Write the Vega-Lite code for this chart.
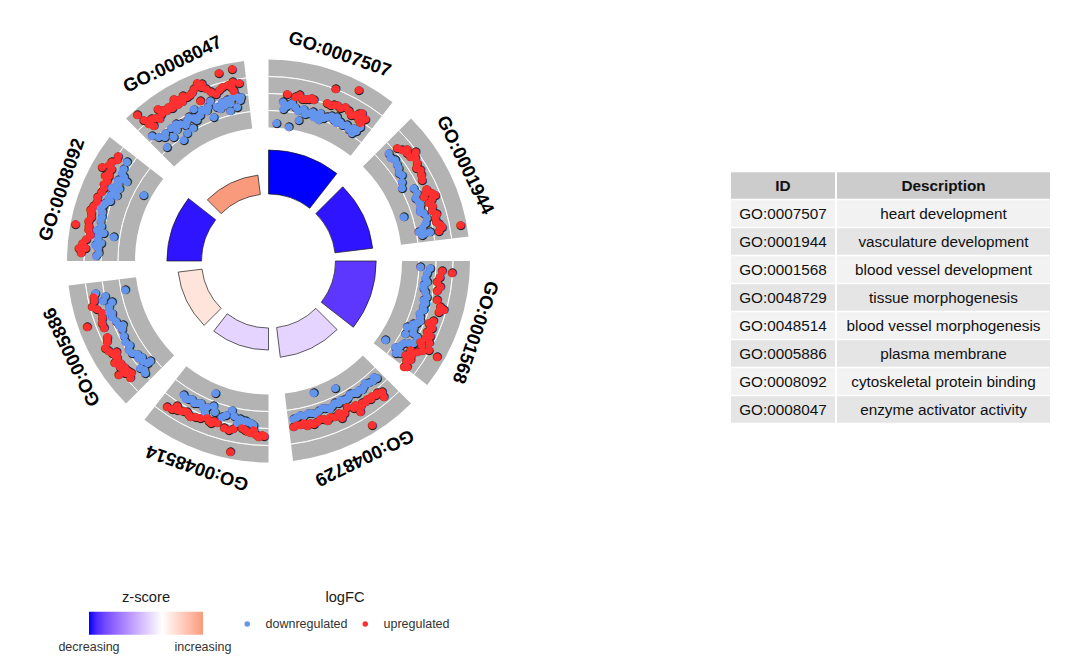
{
  "$schema": "https://vega.github.io/schema/vega-lite/v6.json",
  "padding": 0,
  "background": "white",
  "config": {"view": {"stroke": null}, "font": "Liberation Sans"},
  "datasets": {
    "terms": [
      {"k": 0, "id": "GO:0007507", "z": -5, "nl": 8.8},
      {"k": 1, "id": "GO:0001944", "z": -4.8, "nl": 7.6},
      {"k": 2, "id": "GO:0001568", "z": -4.25, "nl": 8.14},
      {"k": 3, "id": "GO:0048729", "z": -0.9, "nl": 6.0},
      {"k": 4, "id": "GO:0048514", "z": -0.9, "nl": 4.4},
      {"k": 5, "id": "GO:0005886", "z": 0.75, "nl": 4.8},
      {"k": 6, "id": "GO:0008092", "z": -4.8, "nl": 6.92},
      {"k": 7, "id": "GO:0008047", "z": 2.8, "nl": 3.9}
    ],
    "table": [
      {"i": 0, "id": "ID", "desc": "Description"},
      {"i": 1, "id": "GO:0007507", "desc": "heart development"},
      {"i": 2, "id": "GO:0001944", "desc": "vasculature development"},
      {"i": 3, "id": "GO:0001568", "desc": "blood vessel development"},
      {"i": 4, "id": "GO:0048729", "desc": "tissue morphogenesis"},
      {"i": 5, "id": "GO:0048514", "desc": "blood vessel morphogenesis"},
      {"i": 6, "id": "GO:0005886", "desc": "plasma membrane"},
      {"i": 7, "id": "GO:0008092", "desc": "cytoskeletal protein binding"},
      {"i": 8, "id": "GO:0008047", "desc": "enzyme activator activity"}
    ],
    "genes": [
      {"t":5.1,"f":-0.88,"r":"d"},{"t":7.3,"f":-1.2,"r":"d"},{"t":9.8,"f":-1.36,"r":"d"},{"t":5.6,"f":-1.78,"r":"d"},{"t":13,"f":-1.39,"r":"d"},{"t":15.2,"f":-1.71,"r":"d"},{"t":17.3,"f":-1.92,"r":"d"},{"t":19.3,"f":-1.3,"r":"d"},{"t":22,"f":-1.39,"r":"d"},{"t":24.8,"f":-1.44,"r":"d"},{"t":27.2,"f":-1.27,"r":"d"},{"t":29.9,"f":-1.24,"r":"d"},{"t":32.6,"f":-1.17,"r":"d"},{"t":33.1,"f":-1.77,"r":"d"},{"t":34.4,"f":-0.64,"r":"d"},{"t":3.2,"f":-3.49,"r":"d"},{"t":8.5,"f":-3.73,"r":"d"},{"t":12,"f":-2.75,"r":"d"},{"t":19.5,"f":-2.1,"r":"d"},{"t":25.3,"f":-0.92,"r":"d"},
      {"t":6.5,"f":-1.4,"r":"d"},{"t":8.5,"f":-0.9,"r":"d"},{"t":11,"f":-1.7,"r":"d"},{"t":14,"f":-1.9,"r":"d"},{"t":16.5,"f":-1.4,"r":"d"},{"t":18.5,"f":-1.6,"r":"d"},{"t":21,"f":-1.7,"r":"d"},{"t":23.5,"f":-1.1,"r":"d"},{"t":26,"f":-1.6,"r":"d"},{"t":28.5,"f":-1.5,"r":"d"},{"t":31.2,"f":-1.6,"r":"d"},{"t":34,"f":-1.3,"r":"d"},
      {"t":6.3,"f":0.06,"r":"u"},{"t":9.2,"f":-0.12,"r":"u"},{"t":11.7,"f":-0.29,"r":"u"},{"t":13.9,"f":-0.11,"r":"u"},{"t":15.6,"f":-0.04,"r":"u"},{"t":21.2,"f":2.0,"r":"u"},{"t":27.8,"f":3.03,"r":"u"},{"t":22.6,"f":0.18,"r":"u"},{"t":25.1,"f":0.14,"r":"u"},{"t":28.0,"f":0.33,"r":"u"},{"t":30.7,"f":0.27,"r":"u"},{"t":32.3,"f":0.84,"r":"u"},{"t":34.3,"f":0.47,"r":"u"},{"t":32.5,"f":-0.03,"r":"u"},{"t":20.3,"f":0.07,"r":"u"},{"t":12.8,"f":-0.2,"r":"u"},{"t":21.6,"f":0.03,"r":"u"},{"t":33.7,"f":-0.25,"r":"u"},
      {"t":10.5,"f":0.2,"r":"u"},{"t":14.8,"f":0.1,"r":"u"},{"t":23.8,"f":0.3,"r":"u"},{"t":26.5,"f":0.5,"r":"u"},{"t":29.4,"f":0.0,"r":"u"},{"t":31.5,"f":0.6,"r":"u"},{"t":33,"f":0.2,"r":"u"},
      {"t":48.1,"f":-0.74,"r":"d"},{"t":51.4,"f":-0.65,"r":"d"},{"t":54.5,"f":-0.92,"r":"d"},{"t":57.2,"f":-1.04,"r":"d"},{"t":61.4,"f":-1.84,"r":"d"},{"t":71.8,"f":-2.99,"r":"d"},{"t":65.5,"f":-0.53,"r":"d"},{"t":68.4,"f":-0.73,"r":"d"},{"t":70.8,"f":-0.82,"r":"d"},{"t":72.9,"f":-0.63,"r":"d"},{"t":74.9,"f":-0.42,"r":"d"},{"t":78.9,"f":-1.73,"r":"d"},{"t":79.7,"f":-0.98,"r":"d"},{"t":79.7,"f":-0.38,"r":"d"},{"t":63.4,"f":-0.62,"r":"d"},
      {"t":49.8,"f":-0.9,"r":"d"},{"t":53,"f":-0.8,"r":"d"},{"t":56,"f":-1.2,"r":"d"},{"t":59.5,"f":-1.5,"r":"d"},{"t":66.8,"f":-0.9,"r":"d"},{"t":69.5,"f":-0.6,"r":"d"},{"t":72,"f":-1.0,"r":"d"},{"t":76.5,"f":-0.7,"r":"d"},{"t":78,"f":-1.2,"r":"d"},{"t":80.5,"f":-1.4,"r":"d"},
      {"t":48.7,"f":0.38,"r":"u"},{"t":50.2,"f":0.71,"r":"u"},{"t":52.1,"f":0.92,"r":"u"},{"t":53.6,"f":0.99,"r":"u"},{"t":53.3,"f":1.82,"r":"u"},{"t":56.6,"f":1.19,"r":"u"},{"t":59,"f":1.1,"r":"u"},{"t":62.2,"f":0.69,"r":"u"},{"t":66.6,"f":0.37,"r":"u"},{"t":67.5,"f":1.09,"r":"u"},{"t":68.4,"f":1.38,"r":"u"},{"t":70,"f":0.33,"r":"u"},{"t":72.9,"f":0.4,"r":"u"},{"t":75.6,"f":0.53,"r":"u"},{"t":77.7,"f":0.76,"r":"u"},{"t":79,"f":1.07,"r":"u"},{"t":79.4,"f":3.24,"r":"u"},{"t":67.5,"f":0.04,"r":"u"},
      {"t":51,"f":1.2,"r":"u"},{"t":54.8,"f":1.4,"r":"u"},{"t":57.8,"f":0.8,"r":"u"},{"t":60.5,"f":0.9,"r":"u"},{"t":65.5,"f":0.7,"r":"u"},{"t":69.3,"f":0.8,"r":"u"},{"t":71.5,"f":0.6,"r":"u"},{"t":74.3,"f":0.8,"r":"u"},{"t":76.8,"f":0.5,"r":"u"},{"t":78.3,"f":0.9,"r":"u"},{"t":80,"f":0.6,"r":"u"},
      {"t":92.1,"f":-1.85,"r":"d"},{"t":92.6,"f":-0.67,"r":"d"},{"t":96.3,"f":-1.16,"r":"d"},{"t":98.8,"f":-1.25,"r":"d"},{"t":101.1,"f":-0.93,"r":"d"},{"t":102.9,"f":-0.6,"r":"d"},{"t":105.1,"f":-0.61,"r":"d"},{"t":107.5,"f":-0.58,"r":"d"},{"t":110.2,"f":-0.7,"r":"d"},{"t":112.8,"f":-0.78,"r":"d"},{"t":114.9,"f":-0.9,"r":"d"},{"t":115.4,"f":-1.69,"r":"d"},{"t":118.1,"f":-1.48,"r":"d"},{"t":121.4,"f":-1.1,"r":"d"},{"t":124.3,"f":-1.67,"r":"d"},{"t":124.1,"f":-3.13,"r":"d"},{"t":125,"f":-0.79,"r":"d"},{"t":117,"f":-0.11,"r":"d"},{"t":119.6,"f":-0.09,"r":"d"},
      {"t":94.5,"f":-1.0,"r":"d"},{"t":97.5,"f":-0.9,"r":"d"},{"t":100,"f":-1.2,"r":"d"},{"t":104,"f":-0.9,"r":"d"},{"t":106.3,"f":-0.8,"r":"d"},{"t":109,"f":-0.9,"r":"d"},{"t":111.5,"f":-0.5,"r":"d"},{"t":113.5,"f":-1.2,"r":"d"},{"t":116.5,"f":-0.7,"r":"d"},{"t":120.5,"f":-0.6,"r":"d"},{"t":123,"f":-1.3,"r":"d"},{"t":126,"f":-1.2,"r":"d"},
      {"t":93.2,"f":0.72,"r":"u"},{"t":93.6,"f":1.91,"r":"u"},{"t":97,"f":0.25,"r":"u"},{"t":98.5,"f":0.71,"r":"u"},{"t":103,"f":0.62,"r":"u"},{"t":104.9,"f":1.19,"r":"u"},{"t":105.6,"f":1.67,"r":"u"},{"t":111.3,"f":0.49,"r":"u"},{"t":112.4,"f":1.08,"r":"u"},{"t":114.1,"f":0.69,"r":"u"},{"t":116.3,"f":0.85,"r":"u"},{"t":114.9,"f":1.26,"r":"u"},{"t":118,"f":0.5,"r":"u"},{"t":119.1,"f":1.83,"r":"u"},{"t":121.4,"f":0.75,"r":"u"},{"t":124.5,"f":-0.19,"r":"u"},{"t":124.9,"f":0.63,"r":"u"},{"t":127.4,"f":0.77,"r":"u"},{"t":122.1,"f":-0.02,"r":"u"},{"t":119.6,"f":3.07,"r":"u"},
      {"t":95.5,"f":0.5,"r":"u"},{"t":100,"f":0.4,"r":"u"},{"t":106.8,"f":1.2,"r":"u"},{"t":110,"f":0.9,"r":"u"},{"t":113,"f":0.9,"r":"u"},{"t":115.5,"f":1.0,"r":"u"},{"t":117,"f":1.5,"r":"u"},{"t":118.8,"f":0.8,"r":"u"},{"t":120.3,"f":1.2,"r":"u"},{"t":123.3,"f":0.4,"r":"u"},{"t":126,"f":0.3,"r":"u"},{"t":128,"f":0.5,"r":"u"},
      {"t":161.1,"f":-3.34,"r":"d"},{"t":152.4,"f":-2.8,"r":"d"},{"t":137.9,"f":-1.27,"r":"d"},{"t":140.6,"f":-1.18,"r":"d"},{"t":142.9,"f":-1.17,"r":"d"},{"t":145.1,"f":-1.2,"r":"d"},{"t":147.3,"f":-1.2,"r":"d"},{"t":149.5,"f":-1.18,"r":"d"},{"t":151.6,"f":-1.13,"r":"d"},{"t":153.8,"f":-1.05,"r":"d"},{"t":156.4,"f":-1.09,"r":"d"},{"t":159,"f":-1.13,"r":"d"},{"t":161.5,"f":-1.14,"r":"d"},{"t":164.1,"f":-1.07,"r":"d"},{"t":167.3,"f":-1.01,"r":"d"},{"t":169.7,"f":-1.02,"r":"d"},{"t":137.3,"f":-0.92,"r":"d"},
      {"t":139,"f":-1.0,"r":"d"},{"t":141.8,"f":-1.4,"r":"d"},{"t":144,"f":-1.0,"r":"d"},{"t":146.3,"f":-1.0,"r":"d"},{"t":148.5,"f":-1.4,"r":"d"},{"t":150.5,"f":-1.0,"r":"d"},{"t":152.8,"f":-1.3,"r":"d"},{"t":155,"f":-1.3,"r":"d"},{"t":157.5,"f":-0.9,"r":"d"},{"t":160,"f":-1.3,"r":"d"},{"t":162.8,"f":-0.9,"r":"d"},{"t":165.5,"f":-1.2,"r":"d"},{"t":168.5,"f":-1.2,"r":"d"},{"t":171,"f":-0.9,"r":"d"},
      {"t":170.2,"f":-0.13,"r":"u"},{"t":167.8,"f":-0.17,"r":"u"},{"t":165.6,"f":0.01,"r":"u"},{"t":163.3,"f":0.03,"r":"u"},{"t":160.8,"f":0.01,"r":"u"},{"t":158.5,"f":0.07,"r":"u"},{"t":155.3,"f":0.02,"r":"u"},{"t":151.8,"f":-0.18,"r":"u"},{"t":149,"f":0.07,"r":"u"},{"t":146.6,"f":0.25,"r":"u"},{"t":144.6,"f":0.26,"r":"u"},{"t":142.6,"f":0.29,"r":"u"},{"t":140.6,"f":0.35,"r":"u"},{"t":139.1,"f":0.64,"r":"u"},{"t":139.7,"f":1.22,"r":"u"},{"t":147.8,"f":3.1,"r":"u"},{"t":148.7,"f":1.04,"r":"u"},{"t":155,"f":0.72,"r":"u"},
      {"t":141.5,"f":0.5,"r":"u"},{"t":143.6,"f":0.5,"r":"u"},{"t":145.5,"f":0.4,"r":"u"},{"t":147.5,"f":0.5,"r":"u"},{"t":150,"f":0.3,"r":"u"},{"t":153.5,"f":0.3,"r":"u"},{"t":157,"f":0.2,"r":"u"},{"t":159.8,"f":0.3,"r":"u"},{"t":162,"f":-0.1,"r":"u"},{"t":164.5,"f":0.2,"r":"u"},{"t":166.8,"f":0.2,"r":"u"},{"t":169,"f":-0.1,"r":"u"},{"t":171.5,"f":0.0,"r":"u"},
      {"t":212.4,"f":-1.04,"r":"d"},{"t":210.1,"f":-0.94,"r":"d"},{"t":207.6,"f":-0.82,"r":"d"},{"t":205.4,"f":-1.16,"r":"d"},{"t":202.9,"f":-1.02,"r":"d"},{"t":201.9,"f":-2.92,"r":"d"},{"t":200.8,"f":-1.46,"r":"d"},{"t":202.7,"f":-0.37,"r":"d"},{"t":196.7,"f":-0.59,"r":"d"},{"t":193.8,"f":-1.65,"r":"d"},{"t":190.2,"f":-0.82,"r":"d"},{"t":188.3,"f":-0.72,"r":"d"},{"t":186.2,"f":-0.49,"r":"d"},{"t":191,"f":-0.25,"r":"d"},
      {"t":211,"f":-0.8,"r":"d"},{"t":209,"f":-1.1,"r":"d"},{"t":206.5,"f":-1.0,"r":"d"},{"t":204,"f":-0.8,"r":"d"},{"t":199.5,"f":-0.8,"r":"d"},{"t":195.5,"f":-0.9,"r":"d"},{"t":192.5,"f":-1.0,"r":"d"},{"t":189.3,"f":-0.6,"r":"d"},{"t":187.2,"f":-0.6,"r":"d"},{"t":185.3,"f":-0.3,"r":"d"},
      {"t":214.9,"f":1.19,"r":"u"},{"t":213.1,"f":1.13,"r":"u"},{"t":212.3,"f":0.47,"r":"u"},{"t":210.5,"f":0.74,"r":"u"},{"t":208.5,"f":0.46,"r":"u"},{"t":206.7,"f":0.8,"r":"u"},{"t":203.5,"f":0.47,"r":"u"},{"t":201.4,"f":0.18,"r":"u"},{"t":199.6,"f":0.56,"r":"u"},{"t":198.8,"f":0.14,"r":"u"},{"t":193.3,"f":0.73,"r":"u"},{"t":189.1,"f":0.23,"r":"u"},{"t":187,"f":0.53,"r":"u"},{"t":185.1,"f":0.25,"r":"u"},{"t":183.3,"f":1.0,"r":"u"},{"t":182.2,"f":0.78,"r":"u"},{"t":191.4,"f":3.17,"r":"u"},
      {"t":211.5,"f":0.9,"r":"u"},{"t":209.5,"f":0.6,"r":"u"},{"t":207.5,"f":0.7,"r":"u"},{"t":205,"f":0.6,"r":"u"},{"t":200.5,"f":0.4,"r":"u"},{"t":197.8,"f":0.3,"r":"u"},{"t":195,"f":0.6,"r":"u"},{"t":192,"f":0.5,"r":"u"},{"t":188,"f":0.4,"r":"u"},{"t":186,"f":0.6,"r":"u"},{"t":184.2,"f":0.8,"r":"u"},{"t":181.5,"f":0.9,"r":"u"},
      {"t":259.4,"f":1.04,"r":"d"},{"t":257.9,"f":-0.05,"r":"d"},{"t":255.4,"f":-0.66,"r":"d"},{"t":258.6,"f":-2.5,"r":"d"},{"t":252.4,"f":0.04,"r":"d"},{"t":250.4,"f":-0.15,"r":"d"},{"t":246.9,"f":-0.52,"r":"d"},{"t":246.3,"f":-0.99,"r":"d"},{"t":240.6,"f":-0.36,"r":"d"},{"t":235.9,"f":-0.3,"r":"d"},{"t":234.6,"f":-0.8,"r":"d"},{"t":232.7,"f":-0.98,"r":"d"},{"t":229.8,"f":-1.06,"r":"d"},{"t":229.9,"f":-1.51,"r":"d"},{"t":230.1,"f":-0.02,"r":"d"},{"t":227.7,"f":-0.08,"r":"d"},{"t":237.6,"f":-0.19,"r":"d"},
      {"t":256.5,"f":0.3,"r":"d"},{"t":254,"f":-0.2,"r":"d"},{"t":251.5,"f":-0.3,"r":"d"},{"t":248.5,"f":-0.4,"r":"d"},{"t":245,"f":-0.7,"r":"d"},{"t":242.5,"f":-0.5,"r":"d"},{"t":238.8,"f":-0.6,"r":"d"},{"t":233.5,"f":-0.6,"r":"d"},{"t":231.5,"f":-0.8,"r":"d"},{"t":228.8,"f":-0.3,"r":"d"},
      {"t":258.3,"f":1.32,"r":"u"},{"t":255.5,"f":1.76,"r":"u"},{"t":252.6,"f":0.85,"r":"u"},{"t":249.5,"f":1.23,"r":"u"},{"t":250.1,"f":3.02,"r":"u"},{"t":243.5,"f":1.55,"r":"u"},{"t":241.9,"f":2.08,"r":"u"},{"t":239.5,"f":1.69,"r":"u"},{"t":239.2,"f":1.15,"r":"u"},{"t":237.6,"f":1.43,"r":"u"},{"t":236.6,"f":2.03,"r":"u"},{"t":235.4,"f":1.49,"r":"u"},{"t":233.6,"f":1.38,"r":"u"},{"t":232.1,"f":1.31,"r":"u"},{"t":232.8,"f":2.46,"r":"u"},{"t":231.9,"f":1.72,"r":"u"},{"t":230.9,"f":1.15,"r":"u"},
      {"t":257,"f":1.4,"r":"u"},{"t":254.3,"f":1.3,"r":"u"},{"t":251,"f":1.0,"r":"u"},{"t":248,"f":1.2,"r":"u"},{"t":244.8,"f":1.3,"r":"u"},{"t":240.8,"f":1.9,"r":"u"},{"t":238.2,"f":1.5,"r":"u"},{"t":236.2,"f":1.7,"r":"u"},{"t":234.4,"f":1.8,"r":"u"},{"t":233,"f":1.6,"r":"u"},{"t":231.2,"f":1.4,"r":"u"},{"t":229.9,"f":1.6,"r":"u"},
      {"t":305,"f":0.65,"r":"d"},{"t":300.9,"f":0.4,"r":"d"},{"t":299.4,"f":-0.13,"r":"d"},{"t":297.2,"f":0.13,"r":"d"},{"t":299.2,"f":-0.6,"r":"d"},{"t":294.9,"f":0.61,"r":"d"},{"t":294.2,"f":0.16,"r":"d"},{"t":291.4,"f":0.51,"r":"d"},{"t":289.7,"f":0.7,"r":"d"},{"t":287.9,"f":1.1,"r":"d"},{"t":284.9,"f":0.58,"r":"d"},{"t":278.7,"f":0.53,"r":"d"},{"t":279.5,"f":-0.02,"r":"d"},{"t":275.3,"f":0.77,"r":"d"},{"t":272.8,"f":0.32,"r":"d"},{"t":278.9,"f":-1.25,"r":"d"},{"t":297.8,"f":-3.07,"r":"d"},{"t":293.2,"f":-0.29,"r":"d"},{"t":280.2,"f":0.82,"r":"d"},
      {"t":302.5,"f":0.5,"r":"d"},{"t":300.2,"f":0.0,"r":"d"},{"t":298.3,"f":0.4,"r":"d"},{"t":296,"f":0.3,"r":"d"},{"t":295.8,"f":-0.2,"r":"d"},{"t":292.8,"f":0.4,"r":"d"},{"t":290.6,"f":0.2,"r":"d"},{"t":288.6,"f":0.8,"r":"d"},{"t":286.5,"f":0.7,"r":"d"},{"t":283.3,"f":0.6,"r":"d"},{"t":281.8,"f":0.4,"r":"d"},{"t":277,"f":0.5,"r":"d"},{"t":274.3,"f":0.4,"r":"d"},{"t":276,"f":0.1,"r":"d"},{"t":271.8,"f":0.6,"r":"d"},
      {"t":303.7,"f":1.73,"r":"u"},{"t":302.3,"f":2.18,"r":"u"},{"t":299.3,"f":2.79,"r":"u"},{"t":298.7,"f":1.76,"r":"u"},{"t":296.4,"f":1.53,"r":"u"},{"t":293.8,"f":1.5,"r":"u"},{"t":289.1,"f":1.66,"r":"u"},{"t":286,"f":2.11,"r":"u"},{"t":283.8,"f":1.78,"r":"u"},{"t":281,"f":1.87,"r":"u"},{"t":278.3,"f":1.5,"r":"u"},{"t":280.8,"f":3.45,"r":"u"},{"t":273.8,"f":2.7,"r":"u"},{"t":274,"f":1.91,"r":"u"},{"t":297.9,"f":1.6,"r":"u"},
      {"t":304.8,"f":1.9,"r":"u"},{"t":301,"f":2.2,"r":"u"},{"t":300.3,"f":1.7,"r":"u"},{"t":297.5,"f":2.0,"r":"u"},{"t":295,"f":1.7,"r":"u"},{"t":292.5,"f":1.6,"r":"u"},{"t":290.5,"f":1.8,"r":"u"},{"t":287.5,"f":1.9,"r":"u"},{"t":285,"f":1.9,"r":"u"},{"t":282.5,"f":2.0,"r":"u"},{"t":279.8,"f":1.8,"r":"u"},{"t":276.8,"f":1.9,"r":"u"},{"t":275.5,"f":2.3,"r":"u"},{"t":272.5,"f":2.4,"r":"u"},
      {"t":317,"f":0.41,"r":"d"},{"t":318.4,"f":-0.24,"r":"d"},{"t":321,"f":-0.38,"r":"d"},{"t":323.6,"f":-0.33,"r":"d"},{"t":325,"f":-0.89,"r":"d"},{"t":324.9,"f":-2.31,"r":"d"},{"t":318.2,"f":-1.76,"r":"d"},{"t":322.5,"f":-1.36,"r":"d"},{"t":327.2,"f":-0.53,"r":"d"},{"t":329.8,"f":-0.6,"r":"d"},{"t":332.3,"f":-0.75,"r":"d"},{"t":334.9,"f":-0.74,"r":"d"},{"t":337.7,"f":-0.59,"r":"d"},{"t":339.1,"f":-1.61,"r":"d"},{"t":341.4,"f":-0.63,"r":"d"},{"t":343.6,"f":-0.25,"r":"d"},{"t":345.5,"f":-0.14,"r":"d"},{"t":347.3,"f":-0.09,"r":"d"},{"t":349.3,"f":-0.03,"r":"d"},{"t":350.4,"f":-0.18,"r":"d"},{"t":348.4,"f":-1.25,"r":"d"},{"t":345.7,"f":-1.45,"r":"d"},{"t":340,"f":0.36,"r":"d"},{"t":333.7,"f":0.2,"r":"d"},
      {"t":320,"f":-0.7,"r":"d"},{"t":326,"f":-0.2,"r":"d"},{"t":328.5,"f":-1.0,"r":"d"},{"t":331,"f":-0.3,"r":"d"},{"t":333,"f":-1.1,"r":"d"},{"t":336,"f":-0.3,"r":"d"},{"t":338.5,"f":-0.2,"r":"d"},{"t":342.5,"f":-0.9,"r":"d"},{"t":344.5,"f":-0.6,"r":"d"},{"t":346.5,"f":-0.6,"r":"d"},{"t":350,"f":-0.5,"r":"d"},{"t":330.5,"f":-1.7,"r":"d"},{"t":327.5,"f":-1.9,"r":"d"},
      {"t":318,"f":3.42,"r":"u"},{"t":318.4,"f":2.46,"r":"u"},{"t":318.8,"f":1.72,"r":"u"},{"t":319.6,"f":1.16,"r":"u"},{"t":321.5,"f":1.72,"r":"u"},{"t":323.8,"f":1.72,"r":"u"},{"t":325.8,"f":1.69,"r":"u"},{"t":327.7,"f":1.55,"r":"u"},{"t":329.6,"f":1.58,"r":"u"},{"t":331.5,"f":1.63,"r":"u"},{"t":333.5,"f":1.81,"r":"u"},{"t":335.5,"f":2.05,"r":"u"},{"t":338,"f":2.83,"r":"u"},{"t":338.7,"f":2.22,"r":"u"},{"t":340,"f":1.83,"r":"u"},{"t":341.2,"f":1.34,"r":"u"},{"t":342.5,"f":0.89,"r":"u"},{"t":345,"f":1.45,"r":"u"},{"t":346.9,"f":1.55,"r":"u"},{"t":348.6,"f":1.81,"r":"u"},{"t":348.4,"f":0.75,"r":"u"},{"t":345.1,"f":3.14,"r":"u"},{"t":349.2,"f":3.25,"r":"u"},{"t":323.8,"f":2.41,"r":"u"},{"t":329.6,"f":2.35,"r":"u"},{"t":336.9,"f":0.8,"r":"u"},
      {"t":320.5,"f":2.0,"r":"u"},{"t":322.5,"f":1.4,"r":"u"},{"t":324.7,"f":2.0,"r":"u"},{"t":326.8,"f":1.9,"r":"u"},{"t":328.5,"f":1.9,"r":"u"},{"t":330.5,"f":2.0,"r":"u"},{"t":332.5,"f":2.2,"r":"u"},{"t":334.5,"f":1.9,"r":"u"},{"t":336.5,"f":2.4,"r":"u"},{"t":339.3,"f":2.6,"r":"u"},{"t":343.8,"f":1.2,"r":"u"},{"t":347.8,"f":1.2,"r":"u"},{"t":350.5,"f":1.5,"r":"u"}
    ]
  },
  "spacing": 194,
  "hconcat": [
    {
      "width": 537,
      "height": 522,
      "resolve": {"scale": {"theta": "independent", "radius": "independent", "color": "independent"}},
      "layer": [
        {
          "data": {"name": "terms"},
          "mark": {"type": "arc", "fill": "#b3b3b3", "theta2Offset": 0.66323},
          "encoding": {
            "theta": {"field": "k", "type": "quantitative", "scale": {"domain": [0, 8], "range": [0, 6.283185]}},
            "theta2": {"field": "k"},
            "radius": {"datum": 4, "type": "quantitative", "scale": {"type": "linear", "zero": false, "domain": [-4, 4], "range": [133.5, 201.5]}},
            "radius2": {"datum": -4}
          }
        },
        {
          "data": {"name": "terms"},
          "mark": {"type": "arc", "fillOpacity": 0, "stroke": "#ffffff", "strokeWidth": 1, "strokeOpacity": 0.8, "theta2Offset": 0.66323},
          "encoding": {
            "theta": {"field": "k", "type": "quantitative", "scale": {"domain": [0, 8], "range": [0, 6.283185]}},
            "theta2": {"field": "k"},
            "radius": {"datum": -2, "type": "quantitative", "scale": {"type": "linear", "zero": false, "domain": [-4, 4], "range": [133.5, 201.5]}},
            "radius2": {"datum": -2}
          }
        },
        {
          "data": {"name": "terms"},
          "mark": {"type": "arc", "fillOpacity": 0, "stroke": "#ffffff", "strokeWidth": 1, "strokeOpacity": 0.8, "theta2Offset": 0.66323},
          "encoding": {
            "theta": {"field": "k", "type": "quantitative", "scale": {"domain": [0, 8], "range": [0, 6.283185]}},
            "theta2": {"field": "k"},
            "radius": {"datum": 0, "type": "quantitative", "scale": {"type": "linear", "zero": false, "domain": [-4, 4], "range": [133.5, 201.5]}},
            "radius2": {"datum": 0}
          }
        },
        {
          "data": {"name": "terms"},
          "mark": {"type": "arc", "fillOpacity": 0, "stroke": "#ffffff", "strokeWidth": 1, "strokeOpacity": 0.8, "theta2Offset": 0.66323},
          "encoding": {
            "theta": {"field": "k", "type": "quantitative", "scale": {"domain": [0, 8], "range": [0, 6.283185]}},
            "theta2": {"field": "k"},
            "radius": {"datum": 2, "type": "quantitative", "scale": {"type": "linear", "zero": false, "domain": [-4, 4], "range": [133.5, 201.5]}},
            "radius2": {"datum": 2}
          }
        },
        {
          "data": {"name": "genes"},
          "mark": {"type": "text", "text": "●", "font": "DejaVu Sans", "fontSize": 11.6, "fill": "#1a1a1a", "dx": 0.5, "dy": 0.5},
          "encoding": {
            "theta": {"field": "t", "type": "quantitative", "scale": {"domain": [0, 360], "range": [0, 6.283185]}},
            "radius": {"field": "f", "type": "quantitative", "scale": {"type": "linear", "zero": false, "domain": [-4, 4], "range": [133.5, 201.5]}}
          }
        },
        {
          "data": {"name": "genes"},
          "mark": {"type": "text", "text": "●", "font": "DejaVu Sans", "fontSize": 10.4},
          "encoding": {
            "theta": {"field": "t", "type": "quantitative", "scale": {"domain": [0, 360], "range": [0, 6.283185]}},
            "radius": {"field": "f", "type": "quantitative", "scale": {"type": "linear", "zero": false, "domain": [-4, 4], "range": [133.5, 201.5]}},
            "color": {
              "field": "r", "type": "nominal",
              "scale": {"domain": ["d", "u"], "range": ["#6495ed", "#ff3030"]},
              "legend": {
                "title": "logFC", "orient": "none", "legendX": 241, "legendY": 590, "direction": "horizontal",
                "symbolType": "circle", "symbolSize": 30,
                "labelExpr": "datum.label == 'd' ? 'downregulated' : 'upregulated'",
                "labelFontSize": 12.5, "titleFontSize": 14.7, "titleFontWeight": "normal", "titleAnchor": "middle",
                "titlePadding": 13, "labelOffset": 12, "columnPadding": 11, "labelColor": "#333333", "titleColor": "#1a1a1a"
              }
            }
          }
        },
        {
          "data": {"name": "terms"},
          "mark": {"type": "arc", "stroke": "#1a1a1a", "strokeWidth": 0.7, "theta2Offset": 0.66323},
          "encoding": {
            "theta": {"field": "k", "type": "quantitative", "scale": {"domain": [0, 8], "range": [0, 6.283185]}},
            "theta2": {"field": "k"},
            "radius": {"field": "nl", "type": "quantitative", "scale": {"type": "linear", "zero": false, "domain": [0, 10], "range": [67, 117]}},
            "radius2": {"datum": 0},
            "color": {
              "field": "z", "type": "quantitative",
              "scale": {"domain": [-5, 0, 2.8], "range": ["#0000ff", "#ffffff", "#f99a7c"], "interpolate": "lab"},
              "legend": {
                "title": "z-score", "orient": "none", "legendX": 89, "legendY": 590, "direction": "horizontal",
                "gradientLength": 114, "gradientThickness": 23, "gradientStrokeWidth": 0,
                "values": [-5, 2.8],
                "labelExpr": "datum.value < 0 ? 'decreasing' : 'increasing'",
                "labelAlign": "center", "labelFontSize": 12.5, "labelOffset": 6, "labelColor": "#333333",
                "titleFontSize": 14.7, "titleFontWeight": "normal", "titleAnchor": "middle", "titlePadding": 7, "titleColor": "#1a1a1a",
                "encode": {"labels": {"update": {"align": {"value": "center"}}}}
              }
            }
          }
        },
        {
          "data": {"name": "terms"},
          "mark": {"type": "text", "fontSize": 18.5, "fontWeight": "bold", "fill": "#000000", "radius": 219},
          "encoding": {
            "theta": {"field": "k", "type": "quantitative", "scale": {"domain": [0, 8], "range": [0.331613, 6.614798]}},
            "angle": {"field": "k", "type": "quantitative", "scale": {"domain": [0, 8], "range": [19, 379]}},
            "text": {"field": "id"}
          }
        }
      ]
    },
    {
      "spacing": 2,
      "hconcat": [
        {
          "width": 104,
          "height": 424,
          "data": {"name": "table"},
          "encoding": {"y": {"field": "i", "type": "ordinal", "axis": null, "scale": {"paddingInner": 0.05, "paddingOuter": 0.025, "range": [171.5, 423.5]}}},
          "layer": [
            {"mark": {"type": "rect"}, "encoding": {"color": {"condition": [{"test": "datum.i == 0", "value": "#cccccc"}, {"test": "datum.i % 2 == 1", "value": "#f2f2f2"}], "value": "#e5e5e5"}}},
            {"transform": [{"filter": "datum.i == 0"}], "mark": {"type": "text", "fontSize": 15.3, "fontWeight": "bold", "fill": "#111111"}, "encoding": {"text": {"field": "id"}}},
            {"transform": [{"filter": "datum.i > 0"}], "mark": {"type": "text", "fontSize": 15.3, "fill": "#111111"}, "encoding": {"text": {"field": "id"}}}
          ]
        },
        {
          "width": 213,
          "height": 424,
          "data": {"name": "table"},
          "encoding": {"y": {"field": "i", "type": "ordinal", "axis": null, "scale": {"paddingInner": 0.05, "paddingOuter": 0.025, "range": [171.5, 423.5]}}},
          "layer": [
            {"mark": {"type": "rect"}, "encoding": {"color": {"condition": [{"test": "datum.i == 0", "value": "#cccccc"}, {"test": "datum.i % 2 == 1", "value": "#f2f2f2"}], "value": "#e5e5e5"}}},
            {"transform": [{"filter": "datum.i == 0"}], "mark": {"type": "text", "fontSize": 15.3, "fontWeight": "bold", "fill": "#111111"}, "encoding": {"text": {"field": "desc"}}},
            {"transform": [{"filter": "datum.i > 0"}], "mark": {"type": "text", "fontSize": 15.3, "fill": "#111111"}, "encoding": {"text": {"field": "desc"}}}
          ]
        }
      ]
    }
  ]
}
